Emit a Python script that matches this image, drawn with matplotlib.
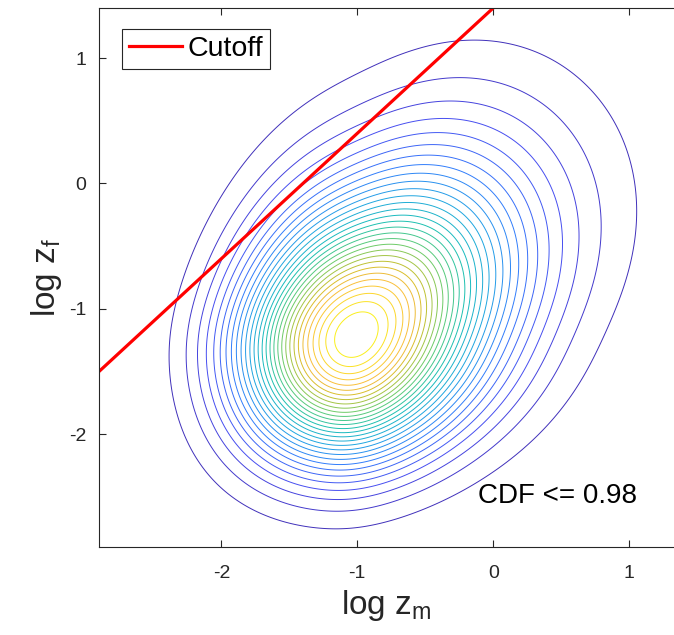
import numpy as np
import matplotlib
matplotlib.use('Agg')
import matplotlib.pyplot as plt
from matplotlib.colors import LinearSegmentedColormap

plt.rcParams['font.family'] = ['Liberation Sans', 'DejaVu Sans']
plt.rcParams['mathtext.fontset'] = 'custom'
plt.rcParams['mathtext.rm'] = 'Liberation Sans'
plt.rcParams['mathtext.it'] = 'Liberation Sans'
plt.rcParams['axes.unicode_minus'] = False

# shape of the joint density
mode_m, mode_f = -1.01, -1.21
scale_m, scale_f = 0.61, 0.69
skew_m, skew_f = 0.123, 0.128
coupling = 0.26
n_levels = 30

# cutoff line
cutoff_m = [-2.9, 0.0]
cutoff_f = [-1.5, 1.4]

xticks = [-2, -1, 0, 1]
yticks = [-2, -1, 0, 1]

# matlab parula (some of the 64 entries)
parula_pts = [
    (0 / 63, (0.2422, 0.1504, 0.6603)),
    (8 / 63, (0.2813, 0.3006, 0.9414)),
    (16 / 63, (0.1963, 0.4847, 0.9892)),
    (24 / 63, (0.1248, 0.6459, 0.8883)),
    (32 / 63, (0.0964, 0.7500, 0.7120)),
    (40 / 63, (0.3909, 0.8029, 0.4354)),
    (48 / 63, (0.8203, 0.7498, 0.1535)),
    (52 / 63, (0.9728, 0.7298, 0.2394)),
    (56 / 63, (0.9892, 0.8136, 0.1885)),
    (63 / 63, (0.9769, 0.9839, 0.0805)),
]
parula = LinearSegmentedColormap.from_list('parula', parula_pts)


def warp(t, c):
    out = np.full_like(t, np.nan)
    ok = c * t > -1
    out[ok] = np.log1p(c * t[ok]) / c
    return out


def soft_pos(t, eps=0.5):
    return 0.5 * (t + np.sqrt(t * t + eps * eps)) - eps / 2


xs = np.linspace(-2.9, 1.33, 500)
ys = np.linspace(-2.9, 1.4, 500)
X, Y = np.meshgrid(xs, ys)
a = warp((X - mode_m) / scale_m, skew_m)
b = warp((Y - mode_f) / scale_f, skew_f)
u = a - coupling * soft_pos(b)
v = b - coupling * soft_pos(a)
Z = np.exp(-0.5 * (u * u + v * v))
Z = np.nan_to_num(Z, nan=0.0)

levels = np.linspace(0, 1, n_levels + 2)[1:-1]

fig = plt.figure(figsize=(6.74, 6.35), dpi=100)
ax = fig.add_axes([99 / 674, 88 / 635, 1 - 99 / 674, 539 / 635])
ax.contour(X, Y, Z, levels=levels, cmap=parula, vmin=0, vmax=1, linewidths=0.7)
ax.plot(cutoff_m, cutoff_f, color='red', lw=2.3, label='Cutoff')

ax.set_xlim(-2.9, 1.33)
ax.set_ylim(-2.9, 1.4)
ax.set_xticks(xticks)
ax.set_yticks(yticks)
ax.tick_params(direction='in', length=5, width=0.8, colors='0.15',
               labelsize=14, top=True)
ax.tick_params(axis='x', pad=13)
ax.tick_params(axis='y', pad=9)
ax.spines['right'].set_visible(False)
for s in ['left', 'top', 'bottom']:
    ax.spines[s].set_color('0.15')
    ax.spines[s].set_linewidth(0.8)

ax.set_xlabel('log z$_\\mathrm{m}$', fontsize=24, color='0.15', labelpad=4)
ax.set_ylabel('log z$_\\mathrm{f}$', fontsize=24, color='0.15', labelpad=4)

ax.text(-0.11, -2.49, 'CDF <= 0.98', fontsize=20, va='center', ha='left')

leg = ax.legend(loc='upper left', bbox_to_anchor=(0.04, 0.961), borderaxespad=0,
                fontsize=20.5, fancybox=False, edgecolor='0.15', framealpha=1,
                handlelength=1.85, borderpad=0.25, handletextpad=0.2)
leg.get_frame().set_linewidth(0.8)

fig.savefig('out.png', dpi=100)
